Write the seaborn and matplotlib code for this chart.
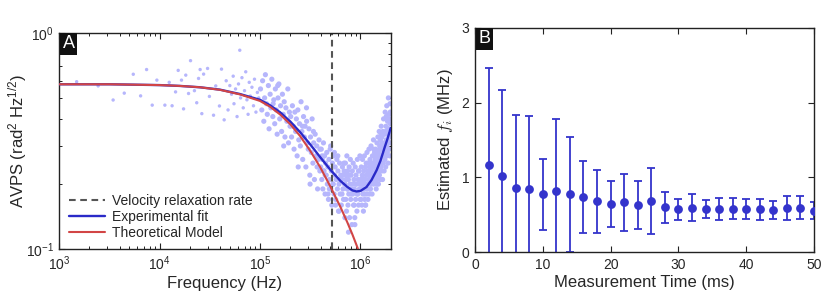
import numpy as np
import pandas as pd
import matplotlib
matplotlib.use("Agg")
import matplotlib.pyplot as plt
import matplotlib.ticker as mticker
from matplotlib.lines import Line2D
import seaborn as sns

# ---------------- Panel A data ----------------
# Experimental fit (blue), frequency in Hz
fit_freq = [1e3, 3.16e3, 1e4, 1.585e4, 2.51e4, 3.98e4, 6.31e4, 1e5, 1.26e5, 1.585e5,
            2.0e5, 2.51e5, 3.16e5, 3.98e5, 5.01e5, 6.31e5, 7.41e5, 8.32e5, 9.12e5, 1.0e6,
            1.15e6, 1.29e6, 1.45e6, 1.585e6, 1.74e6, 1.86e6, 2.0e6]
fit_val = [0.578, 0.578, 0.573, 0.568, 0.560, 0.546, 0.521, 0.490, 0.462, 0.429,
           0.389, 0.347, 0.305, 0.266, 0.233, 0.207, 0.194, 0.187, 0.185, 0.186,
           0.194, 0.209, 0.232, 0.257, 0.295, 0.324, 0.363]

# Theoretical model (red)
model_freq = [1e3, 3.16e3, 1e4, 1.585e4, 2.51e4, 3.98e4, 6.31e4, 1e5, 1.26e5, 1.585e5,
              2.0e5, 2.51e5, 3.16e5, 3.98e5, 5.01e5, 6.31e5, 7.41e5, 8.32e5, 9.33e5, 1.0e6]
model_val = [0.578, 0.578, 0.573, 0.568, 0.560, 0.545, 0.519, 0.484, 0.455, 0.419,
             0.378, 0.333, 0.285, 0.239, 0.195, 0.157, 0.133, 0.117, 0.102, 0.093]

relax_rate = 5.2e5  # Hz

# measured AVPS points (frequency in kHz, value)
scat_khz = [
    1.49, 2.44, 3.44, 4.44, 5.46, 6.46, 7.41, 8.43, 9.38, 11.27, 12.45, 13.3, 14.4, 15.3,
    16.5, 17.3, 18.2, 19.4, 20.3, 22.2, 23.4, 24.4, 25.3, 26.3, 27.4, 30.0, 31.3, 34.4,
    36.2, 39.4, 41.3, 43.9,
    46, 48, 50, 52, 54, 55, 57, 59, 61, 62.8, 64, 66, 68, 70, 72, 74, 76, 78, 80, 83, 86,
    88, 91, 94, 97,
    101, 104, 106, 109, 111, 113, 116, 118, 121, 123, 126, 128, 131, 134, 137, 140, 142,
    145, 148, 151, 154, 157, 160, 164, 167, 170, 174, 177, 181, 185, 189, 192, 196, 199,
    150, 135, 172,
    202, 206, 210, 214, 218, 222, 226, 230, 234, 238, 243, 247, 252, 256, 261, 266, 271,
    276, 281, 286, 291, 296, 302, 307, 313, 318, 324, 330, 336, 342, 348, 354, 361, 367,
    374, 380, 387, 394, 240, 265, 290, 315, 340, 370, 395,
    402, 407, 412, 417, 422, 428, 433, 439, 444, 450, 456, 462, 468, 474, 480, 486, 492,
    499, 505, 512, 518, 525, 532, 539, 546, 553, 560, 567, 574, 582, 589, 597, 605, 612,
    620, 628, 636, 645, 653, 661, 670, 678, 687, 696, 415, 445, 475, 505, 535, 565, 595,
    625, 655, 685, 430, 490, 550, 610, 670, 700,
    702, 708, 714, 720, 726, 732, 738, 745, 751, 758, 765, 772, 779, 786, 793, 800, 807,
    815, 822, 830, 838, 846, 854, 862, 870, 878, 887, 895, 904, 913, 922, 931, 940, 949,
    958, 968, 977, 987, 996, 715, 745, 775, 805, 835, 865, 895, 925, 955, 985, 760, 880,
    1005, 1012, 1019, 1026, 1033, 1040, 1048, 1055, 1063, 1070, 1078, 1086, 1094, 1102,
    1110, 1118, 1127, 1135, 1144, 1152, 1161, 1170, 1179, 1188, 1197, 1206, 1215, 1225,
    1234, 1244, 1254, 1264, 1274, 1284, 1294, 1305, 1315, 1326, 1337, 1348, 1359, 1370,
    1381, 1392, 1020, 1060, 1100, 1140, 1180, 1220, 1260, 1300, 1340, 1380, 1050, 1150,
    1250, 1350, 1120, 1230,
    1402, 1410, 1418, 1426, 1434, 1442, 1450, 1459, 1467, 1475, 1484, 1492, 1501, 1510,
    1518, 1527, 1536, 1545, 1554, 1563, 1572, 1582, 1591, 1600, 1610, 1620, 1629, 1639,
    1649, 1659, 1669, 1679, 1689, 1699, 1710, 1720, 1730, 1741, 1752, 1762, 1773, 1784,
    1795, 1806, 1817, 1828, 1839, 1851, 1862, 1874, 1885, 1897, 1909, 1920, 1932, 1944,
    1956, 1968, 1980, 1992, 1430, 1480, 1530, 1580, 1630, 1680, 1730, 1780, 1830, 1880,
    1930, 1980, 1455, 1555, 1655, 1755, 1855, 1955, 1605, 1805,
]
scat_val = [
    0.594, 0.568, 0.489, 0.526, 0.643, 0.511, 0.676, 0.463, 0.604, 0.463, 0.590, 0.460,
    0.533, 0.670, 0.604, 0.445, 0.637, 0.524, 0.743, 0.540, 0.475, 0.615, 0.676, 0.423,
    0.644, 0.684, 0.508, 0.416, 0.568, 0.459, 0.679, 0.396,
    0.60, 0.44, 0.57, 0.52, 0.63, 0.47, 0.55, 0.41, 0.58, 0.83, 0.50, 0.62, 0.45, 0.54,
    0.66, 0.49, 0.42, 0.59, 0.51, 0.56, 0.46, 0.61, 0.43, 0.53, 0.50,
    0.55, 0.44, 0.60, 0.39, 0.50, 0.64, 0.47, 0.42, 0.57, 0.36, 0.52, 0.45, 0.61, 0.41,
    0.49, 0.38, 0.55, 0.44, 0.34, 0.50, 0.58, 0.40, 0.46, 0.35, 0.52, 0.42, 0.48, 0.33,
    0.45, 0.39, 0.55, 0.31, 0.43, 0.37, 0.57, 0.47, 0.30,
    0.41, 0.33, 0.46, 0.37, 0.29, 0.43, 0.35, 0.40, 0.27, 0.44, 0.32, 0.38, 0.30, 0.48,
    0.35, 0.26, 0.41, 0.33, 0.37, 0.24, 0.39, 0.31, 0.29, 0.36, 0.22, 0.33, 0.28, 0.40,
    0.25, 0.31, 0.21, 0.34, 0.27, 0.30, 0.19, 0.26, 0.32, 0.23, 0.24, 0.37, 0.45, 0.20,
    0.35, 0.24, 0.29,
    0.24, 0.29, 0.21, 0.26, 0.19, 0.31, 0.23, 0.27, 0.18, 0.25, 0.22, 0.28, 0.20, 0.24,
    0.17, 0.26, 0.21, 0.29, 0.19, 0.23, 0.16, 0.25, 0.20, 0.27, 0.18, 0.22, 0.24, 0.17,
    0.21, 0.26, 0.19, 0.23, 0.15, 0.20, 0.25, 0.18, 0.22, 0.16, 0.21, 0.24, 0.19, 0.17,
    0.23, 0.20, 0.27, 0.22, 0.18, 0.30, 0.20, 0.16, 0.27, 0.21, 0.18, 0.25, 0.23, 0.19,
    0.28, 0.15, 0.22, 0.14,
    0.20, 0.25, 0.17, 0.22, 0.15, 0.27, 0.19, 0.23, 0.16, 0.21, 0.18, 0.24, 0.14, 0.20,
    0.26, 0.17, 0.22, 0.19, 0.13, 0.23, 0.18, 0.25, 0.16, 0.21, 0.19, 0.14, 0.24, 0.17,
    0.22, 0.20, 0.15, 0.26, 0.18, 0.21, 0.16, 0.23, 0.19, 0.27, 0.17, 0.21, 0.19, 0.22,
    0.18, 0.20, 0.16, 0.20, 0.18, 0.23, 0.20, 0.12, 0.13,
    0.21, 0.17, 0.24, 0.19, 0.16, 0.22, 0.26, 0.18, 0.20, 0.15, 0.23, 0.19, 0.27, 0.17,
    0.21, 0.24, 0.16, 0.20, 0.22, 0.18, 0.28, 0.19, 0.23, 0.17, 0.25, 0.21, 0.29, 0.18,
    0.22, 0.26, 0.19, 0.24, 0.30, 0.20, 0.23, 0.18, 0.27, 0.21, 0.25, 0.32, 0.20, 0.24,
    0.28, 0.22, 0.19, 0.21, 0.18, 0.25, 0.20, 0.23, 0.21, 0.25, 0.22, 0.27, 0.20, 0.22,
    0.19, 0.29, 0.16, 0.24,
    0.26, 0.21, 0.29, 0.23, 0.19, 0.27, 0.24, 0.31, 0.21, 0.26, 0.22, 0.33, 0.25, 0.20,
    0.28, 0.24, 0.35, 0.22, 0.30, 0.26, 0.21, 0.32, 0.27, 0.24, 0.37, 0.29, 0.23, 0.33,
    0.27, 0.21, 0.35, 0.30, 0.25, 0.40, 0.28, 0.23, 0.34, 0.31, 0.26, 0.43, 0.29, 0.24,
    0.37, 0.32, 0.27, 0.46, 0.34, 0.28, 0.39, 0.31, 0.25, 0.50, 0.36, 0.29, 0.42, 0.33,
    0.27, 0.47, 0.38, 0.31, 0.25, 0.28, 0.26, 0.29, 0.31, 0.27, 0.30, 0.35, 0.30, 0.36,
    0.34, 0.43, 0.20, 0.23, 0.25, 0.28, 0.32, 0.40, 0.34, 0.41,
]

# ---------------- Panel B data ----------------
meas_time_ms = [2, 4, 6, 8, 10, 12, 14, 16, 18, 20, 22, 24, 26, 28, 30, 32, 34, 36, 38,
                40, 42, 44, 46, 48, 50]
fi_mhz = [1.166, 1.02, 0.863, 0.846, 0.774, 0.819, 0.774, 0.743, 0.681, 0.645, 0.668,
          0.636, 0.685, 0.601, 0.574, 0.596, 0.574, 0.583, 0.583, 0.578, 0.574, 0.565,
          0.592, 0.596, 0.556]
fi_err = [1.29, 1.15, 0.97, 0.97, 0.47, 0.96, 0.77, 0.48, 0.42, 0.31, 0.38, 0.32, 0.44,
          0.21, 0.14, 0.18, 0.12, 0.145, 0.143, 0.13, 0.136, 0.125, 0.156, 0.15, 0.112]

# ---------------- style ----------------
sns.set_theme(style="ticks")
plt.rcParams["font.family"] = ["Liberation Sans", "DejaVu Sans"]
plt.rcParams["mathtext.fontset"] = "custom"
plt.rcParams["mathtext.rm"] = "Liberation Sans"
plt.rcParams["mathtext.it"] = "Liberation Sans:italic"
plt.rcParams["mathtext.bf"] = "Liberation Sans:bold"

BLUE = "#2a2ac8"
RED = "#d24545"
DOT = "#b6b6fc"
EB = "#3434cc"

fig = plt.figure(figsize=(8.30, 3.04), dpi=100)
axA = fig.add_axes([0.0714, 0.1799, 0.3993, 0.7125])
axB = fig.add_axes([0.5723, 0.1700, 0.4084, 0.7389])

# ---------- Panel A ----------
scat_df = pd.DataFrame({"f": np.array(scat_khz) * 1e3, "v": scat_val})
low = scat_df[scat_df["f"] < 1e5]
high = scat_df[scat_df["f"] >= 1e5]
axA.set_xscale("log")
axA.set_yscale("log")
sns.scatterplot(data=low, x="f", y="v", ax=axA, s=6, color=DOT, edgecolor="none",
                linewidth=0, legend=False, zorder=1)
sns.scatterplot(data=high, x="f", y="v", ax=axA, s=14, color=DOT, edgecolor="none",
                linewidth=0, legend=False, zorder=1)
axA.axvline(relax_rate, color="#555555", lw=1.5, ls=(0, (3.2, 2.2)), zorder=2)
sns.lineplot(x=fit_freq, y=fit_val, ax=axA, color=BLUE, lw=1.7, sort=False,
             estimator=None, zorder=3)
sns.lineplot(x=model_freq, y=model_val, ax=axA, color=RED, lw=1.5, sort=False,
             estimator=None, zorder=4)
axA.set_xlim(1e3, 2e6)
axA.set_ylim(0.1, 1.0)
axA.xaxis.set_major_locator(mticker.LogLocator(base=10, numticks=10))
axA.xaxis.set_minor_locator(mticker.LogLocator(base=10, subs=np.arange(2, 10), numticks=20))
axA.yaxis.set_major_locator(mticker.FixedLocator([0.1, 1.0]))
axA.yaxis.set_minor_locator(mticker.FixedLocator([0.2, 0.3, 0.4, 0.5, 0.6, 0.7, 0.8, 0.9]))
axA.yaxis.set_major_formatter(mticker.LogFormatterSciNotation())
axA.yaxis.set_minor_formatter(mticker.NullFormatter())
axA.set_xlabel("Frequency (Hz)", fontsize=12, labelpad=2)
axA.set_ylabel(r"AVPS (rad$^2$ Hz$^{1/2}$)", fontsize=12)
axA.yaxis.set_label_coords(-0.092, 0.5)

handles = [Line2D([], [], color="#555555", lw=1.5, ls=(0, (3.2, 2.2))),
           Line2D([], [], color=BLUE, lw=1.7),
           Line2D([], [], color=RED, lw=1.5)]
labels = ["Velocity relaxation rate", "Experimental fit", "Theoretical Model"]
axA.legend(handles, labels, loc="lower left", frameon=False, fontsize=10,
           handlelength=2.6, handletextpad=0.5, labelspacing=0.12,
           borderaxespad=0.3, bbox_to_anchor=(0.0, 0.0))

# ---------- Panel B ----------
axB.errorbar(meas_time_ms, fi_mhz, yerr=fi_err, fmt="none", ecolor=EB, elinewidth=1.3,
             capsize=2.6, capthick=1.3, zorder=2)
sns.scatterplot(x=meas_time_ms, y=fi_mhz, ax=axB, color=EB, s=40, edgecolor=EB,
                linewidth=0, legend=False, zorder=3)
axB.set_xlim(0, 50)
axB.set_ylim(0, 3)
axB.set_xticks([0, 10, 20, 30, 40, 50])
axB.set_yticks([0, 1, 2, 3])
axB.set_xlabel("Measurement Time (ms)", fontsize=12, labelpad=2)
axB.set_ylabel(r"Estimated $f_i$ (MHz)", fontsize=12, math_fontfamily="cm")
axB.yaxis.set_label_coords(-0.058, 0.5)

for ax, lab in ((axA, "A"), (axB, "B")):
    ax.tick_params(which="both", direction="in", top=True, right=True,
                   labelsize=10, color="#222222", pad=4)
    ax.tick_params(which="major", length=4, width=0.8)
    ax.tick_params(which="minor", length=2.2, width=0.7)
    for sp in ax.spines.values():
        sp.set_color("#222222")
        sp.set_linewidth(1.0)
    ax.annotate(lab, xy=(0, 1), xycoords="axes fraction", xytext=(2.4, -2.0),
                textcoords="offset points", ha="left", va="top", fontsize=13,
                color="white", zorder=10,
                bbox=dict(boxstyle="square,pad=0.15", fc="#111111", ec="none"))

fig.savefig("out.png", dpi=100)
